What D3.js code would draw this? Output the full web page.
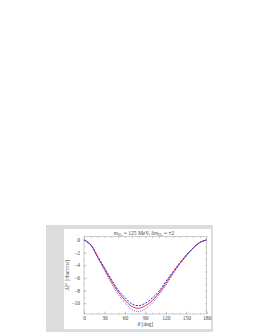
<!DOCTYPE html>
<html>
<head>
<meta charset="utf-8">
<script src="https://cdn.jsdelivr.net/npm/d3@7"></script>
<style>
  html, body { margin: 0; padding: 0; background: #fff; }
  svg { display: block; }
  text { font-family: "Liberation Serif", "DejaVu Serif", serif; fill: #444; }
</style>
</head>
<body>
<div id="chart"></div>
<script>
// angles in degrees
const theta = [0, 10, 20, 30, 40, 50, 60, 70, 80, 90, 100, 110, 120, 130, 140, 150, 160, 170, 180];
// central value (red solid)
const central = [0, -0.8, -2.7, -4.6, -6.5, -8.2, -9.5, -10.5, -10.8, -10.4, -9.6, -8.4, -6.9, -5.3, -3.8, -2.5, -1.3, -0.4, 0];
// upper band (blue dashed)
const upper = [0, -0.8, -2.6, -4.4, -6.2, -7.9, -9.1, -10.1, -10.4, -10.0, -9.2, -8.1, -6.6, -5.1, -3.7, -2.4, -1.3, -0.4, 0];
// lower band (blue dotted)
const lower = [0, -0.8, -2.8, -4.8, -6.8, -8.6, -9.9, -11.0, -11.3, -10.9, -10.0, -8.7, -7.2, -5.5, -3.9, -2.6, -1.3, -0.4, 0];
const xTicks = [0, 30, 60, 90, 120, 150, 180];
const yTicks = [0, -2, -4, -6, -8, -10];

const W = 258, H = 333;
const svg = d3.select("#chart").append("svg").attr("width", W).attr("height", H);

// grey panel with white inner page
svg.append("rect").attr("x", 46).attr("y", 225).attr("width", 167).attr("height", 107).attr("fill", "#dcdcdc");
svg.append("rect").attr("x", 64).attr("y", 229).attr("width", 147).attr("height", 100).attr("fill", "#fff");

const x = d3.scaleLinear().domain([0, 180]).range([84, 206.7]);
const y = d3.scaleLinear().domain([-11.7, 0.5]).range([314, 236.7]);

svg.append("rect")
  .attr("x", x(0)).attr("y", y(0.5))
  .attr("width", x(180) - x(0)).attr("height", y(-11.7) - y(0.5))
  .attr("fill", "none").attr("stroke", "#999").attr("stroke-width", 0.5);

function styleAxis(g) {
  g.select(".domain").remove();
  g.selectAll("line").attr("stroke", "#999").attr("stroke-width", 0.5);
  g.selectAll("text").attr("font-size", 5.5).attr("fill", "#444")
    .style("font-family", "Liberation Serif, serif");
}

const xMinor = d3.range(0, 181, 10);
const yMinor = d3.range(-11, 1, 1);

// bottom axis
svg.append("g").attr("transform", `translate(0,${y(-11.7)})`)
  .call(d3.axisBottom(x).tickValues(xTicks).tickSize(-2.5).tickPadding(2).tickFormat(d3.format("d")))
  .call(styleAxis);
svg.append("g").attr("transform", `translate(0,${y(-11.7)})`)
  .call(d3.axisBottom(x).tickValues(xMinor).tickSize(-1.2).tickFormat(""))
  .call(styleAxis);
// top axis
svg.append("g").attr("transform", `translate(0,${y(0.5)})`)
  .call(d3.axisTop(x).tickValues(xMinor).tickSize(-1.5).tickFormat(""))
  .call(styleAxis);
// left axis
svg.append("g").attr("transform", `translate(${x(0)},0)`)
  .call(d3.axisLeft(y).tickValues(yTicks).tickSize(-2.5).tickPadding(4).tickFormat(d => d === 0 ? "0" : "\u2212" + Math.abs(d)))
  .call(styleAxis);
svg.append("g").attr("transform", `translate(${x(0)},0)`)
  .call(d3.axisLeft(y).tickValues(yMinor).tickSize(-1.2).tickFormat(""))
  .call(styleAxis);
// right axis
svg.append("g").attr("transform", `translate(${x(180)},0)`)
  .call(d3.axisRight(y).tickValues(yMinor).tickSize(-1.5).tickFormat(""))
  .call(styleAxis);

const line = d3.line().x((d, i) => x(theta[i])).y(d => y(d)).curve(d3.curveCatmullRom);

svg.append("path").datum(lower).attr("d", line)
  .attr("fill", "none").attr("stroke", "#5a5aff").attr("stroke-width", 1).attr("stroke-dasharray", "0.9,1.1");
svg.append("path").datum(central).attr("d", line)
  .attr("fill", "none").attr("stroke", "#e8333a").attr("stroke-width", 1);
svg.append("path").datum(upper).attr("d", line)
  .attr("fill", "none").attr("stroke", "#3030d8").attr("stroke-width", 1).attr("stroke-dasharray", "2.2,1.2");

// title
const title = svg.append("text").attr("x", 144).attr("y", 235).attr("text-anchor", "middle").attr("font-size", 5.5);
title.append("tspan").attr("font-style", "italic").text("m");
title.append("tspan").attr("font-size", 3.8).attr("dy", 1).text("H\u00B1");
title.append("tspan").attr("dy", -1).text(" = 125 MeV, ");
title.append("tspan").text("\u03B4");
title.append("tspan").attr("font-style", "italic").text("m");
title.append("tspan").attr("font-size", 3.8).attr("dy", 1).text("H\u00B1");
title.append("tspan").attr("dy", -1).text(" = \u00B12");

// x label
const xl = svg.append("text").attr("x", x(90)).attr("y", 325.5).attr("text-anchor", "middle").attr("font-size", 5.5);
xl.append("tspan").attr("font-style", "italic").text("\u03B8");
xl.append("tspan").text(" [deg]");

// y label
const yl = svg.append("text").attr("transform", `translate(69,${y(-5.6)}) rotate(-90)`)
  .attr("text-anchor", "middle").attr("font-size", 5.5);
yl.append("tspan").text("\u0394");
yl.append("tspan").attr("font-size", 3.8).attr("dy", 1.2).text("T");
yl.append("tspan").attr("font-size", 3.8).attr("dy", -3.4).attr("dx", -2).text("\u03A3n");
yl.append("tspan").attr("dy", 2.2).text(" [nbarn/sr]");
</script>
</body>
</html>
